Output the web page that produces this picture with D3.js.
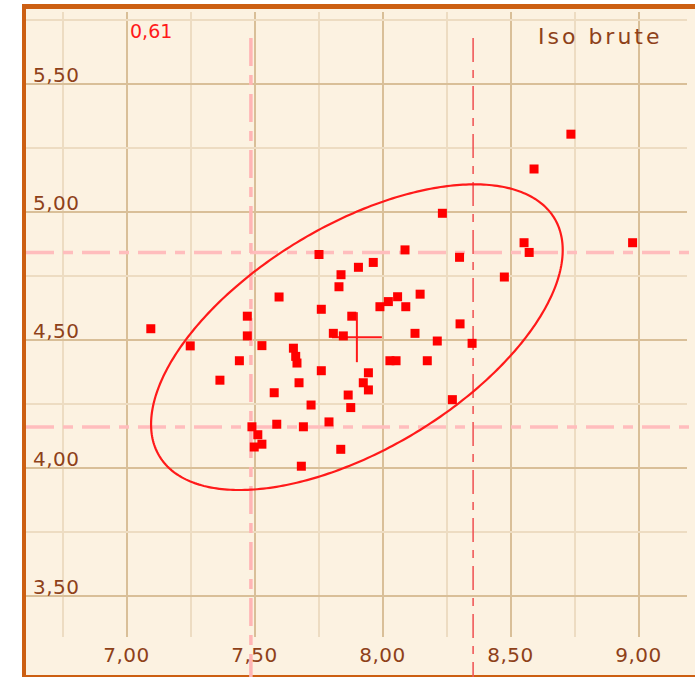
<!DOCTYPE html>
<html>
<head>
<meta charset="utf-8">
<script src="https://cdn.jsdelivr.net/npm/d3@7"></script>
<style>
  body { margin: 0; background: #ffffff; }
  svg text { font-family: "DejaVu Sans", sans-serif; }
</style>
</head>
<body>
<div id="chart"></div>
<script>
// points
const ptX = [7.093, 7.247, 7.363, 7.439, 7.470, 7.470, 7.527, 7.488, 7.511, 7.527,
             7.497, 7.585, 7.575, 7.594, 7.650, 7.659, 7.664, 7.672, 7.689, 7.681,
             7.719, 7.750, 7.759, 7.759, 7.789, 7.806, 7.845, 7.828, 7.836, 7.835,
             7.864, 7.874, 7.878, 7.904, 7.923, 7.943, 7.943, 7.962, 7.988, 8.021,
             8.057, 8.089, 8.027, 8.051, 8.086, 8.125, 8.145, 8.173, 8.212, 8.232,
             8.271, 8.299, 8.301, 8.348, 8.474, 8.551, 8.571, 8.590, 8.734, 8.975];
const ptY = [4.544, 4.477, 4.343, 4.419, 4.593, 4.516, 4.478, 4.161, 4.130, 4.093,
             4.082, 4.171, 4.294, 4.668, 4.468, 4.436, 4.410, 4.333, 4.161, 4.007,
             4.246, 4.834, 4.620, 4.380, 4.180, 4.526, 4.516, 4.708, 4.755, 4.073,
             4.285, 4.236, 4.593, 4.784, 4.333, 4.372, 4.305, 4.803, 4.630, 4.650,
             4.669, 4.630, 4.419, 4.419, 4.852, 4.526, 4.679, 4.419, 4.496, 4.995,
             4.267, 4.823, 4.563, 4.487, 4.746, 4.880, 4.842, 5.168, 5.304, 4.880];

const xTicks = [7.0, 7.5, 8.0, 8.5, 9.0];
const yTicks = [3.5, 4.0, 4.5, 5.0, 5.5];
const xGrid = [6.75, 7.0, 7.25, 7.5, 7.75, 8.0, 8.25, 8.5, 8.75, 9.0];
const yGrid = [3.5, 3.75, 4.0, 4.25, 4.5, 4.75, 5.0, 5.25, 5.5, 5.75];

// mean cross, ellipse, guide lines
const meanPt = [7.898, 4.511];
const ellHalf = [0.804, 0.597];
const ellCorr = 0.57;
const guideXpale = [7.484];
const guideXred = [8.352];
const guideY = [4.160, 4.842];
const corrLabel = "0,61";
const title = "Iso brute";

const W = 695, H = 677;
const fmt = d => d3.format(".2f")(d).replace(".", ",");
const labelColor = "#8e4119";

const x = d3.scaleLinear().domain([7, 9]).range([127, 639]);
const y = d3.scaleLinear().domain([3.5, 5.5]).range([596, 84]);

const svg = d3.select("#chart").append("svg")
  .attr("width", W)
  .attr("height", H);

// frame
svg.append("rect").attr("x", 22).attr("y", 4).attr("width", W).attr("height", H)
  .attr("fill", "#cc5f12");
svg.append("rect").attr("x", 26).attr("y", 9).attr("width", W).attr("height", 666)
  .attr("fill", "#fcf2e1");

const isMajor = d => Math.abs(d * 2 - Math.round(d * 2)) < 1e-6;

// grid
svg.append("g").selectAll("line").data(xGrid).join("line")
  .attr("x1", d => x(d)).attr("x2", d => x(d))
  .attr("y1", 12).attr("y2", 637)
  .attr("stroke", d => isMajor(d) ? "#d9bf98" : "#eddcc2")
  .attr("stroke-width", 2);

svg.append("g").selectAll("line").data(yGrid).join("line")
  .attr("x1", 26).attr("x2", 687)
  .attr("y1", d => y(d)).attr("y2", d => y(d))
  .attr("stroke", d => isMajor(d) ? "#d9bf98" : "#eddcc2")
  .attr("stroke-width", 2);

// guide lines
svg.append("g").selectAll("line").data(guideY).join("line")
  .attr("x1", 26).attr("x2", W)
  .attr("y1", d => y(d)).attr("y2", d => y(d))
  .attr("stroke", "#ffbdbd")
  .attr("stroke-width", 3.5)
  .attr("stroke-dasharray", "28,9,10,9");

svg.append("g").selectAll("line").data(guideXpale).join("line")
  .attr("x1", d => x(d)).attr("x2", d => x(d))
  .attr("y1", 38).attr("y2", H)
  .attr("stroke", "#ffb5b5")
  .attr("stroke-width", 3.5)
  .attr("stroke-dasharray", "28,9,10,9");

svg.append("g").selectAll("line").data(guideXred).join("line")
  .attr("x1", d => x(d)).attr("x2", d => x(d))
  .attr("y1", 38).attr("y2", H)
  .attr("stroke", "#f05a5a")
  .attr("stroke-width", 1.6)
  .attr("stroke-dasharray", "24,8,8,8");

// ellipse
const tt = d3.range(0, 2 * Math.PI + 0.001, Math.PI / 180);
const phi = Math.acos(ellCorr);
const ellPts = tt.map(t => [
  x(meanPt[0] + ellHalf[0] * Math.cos(t)),
  y(meanPt[1] + ellHalf[1] * Math.cos(t - phi))
]);
svg.append("path")
  .attr("d", d3.line()(ellPts) + "Z")
  .attr("fill", "none")
  .attr("stroke", "#ff1a1a")
  .attr("stroke-width", 2.2);

// mean cross
const arm = x.invert(127 + 25) - 7;
svg.append("line")
  .attr("x1", x(meanPt[0] - arm)).attr("x2", x(meanPt[0] + arm))
  .attr("y1", y(meanPt[1])).attr("y2", y(meanPt[1]))
  .attr("stroke", "#ff1a1a").attr("stroke-width", 2);
svg.append("line")
  .attr("x1", x(meanPt[0])).attr("x2", x(meanPt[0]))
  .attr("y1", y(meanPt[1] + arm)).attr("y2", y(meanPt[1] - arm))
  .attr("stroke", "#ff1a1a").attr("stroke-width", 2);

// points
const sq = 9;
svg.append("g").selectAll("rect").data(ptX).join("rect")
  .attr("x", (d, i) => x(d) - sq / 2)
  .attr("y", (d, i) => y(ptY[i]) - sq / 2)
  .attr("width", sq).attr("height", sq)
  .attr("fill", "#ff0000");

// axes (labels only)
const yAxis = svg.append("g")
  .attr("transform", "translate(33,0)")
  .call(d3.axisRight(y).tickValues(yTicks).tickSize(0).tickFormat(fmt));
yAxis.select(".domain").remove();
yAxis.selectAll("text")
  .attr("x", 0).attr("dy", -3)
  .attr("fill", labelColor)
  .style("font-size", "20px")
  .style("letter-spacing", "0.5px");

const xAxis = svg.append("g")
  .attr("transform", "translate(-1,662)")
  .call(d3.axisBottom(x).tickValues(xTicks).tickSize(0).tickFormat(fmt));
xAxis.select(".domain").remove();
xAxis.selectAll("text")
  .attr("y", 0).attr("dy", 0)
  .attr("fill", labelColor)
  .style("font-size", "20px")
  .style("letter-spacing", "0.5px");

svg.append("text")
  .attr("x", 130).attr("y", 38)
  .attr("fill", "#ff1a1a")
  .style("font-size", "19px")
  .text(corrLabel);

svg.append("text")
  .attr("x", 538).attr("y", 44)
  .attr("fill", labelColor)
  .style("font-size", "22px")
  .style("letter-spacing", "3px")
  .text(title);
</script>
</body>
</html>
